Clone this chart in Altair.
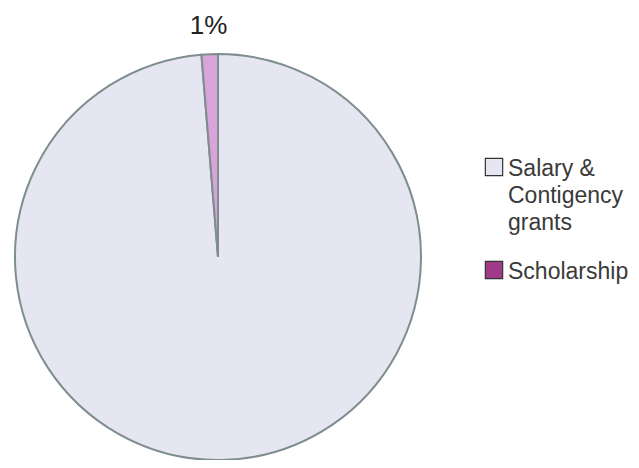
import altair as alt
import pandas as pd

categories = ["Salary & Contigency grants", "Scholarship"]
values = [98.7, 1.3]
legend_lines = [["Salary &", "Contigency", "grants"], ["Scholarship"]]
slice_colors = ["#E6E6F3", "#D8A4DA"]
legend_colors = ["#E6E6F3", "#9E3A86"]

df = pd.DataFrame({
    "cat": categories,
    "value": values,
    "ord": list(range(len(categories))),
    "legend": legend_lines,
})

CX, CY, R = 210, 249, 203

base = alt.Chart(df)

pie = base.mark_arc(radius=R, x=CX, y=CY, stroke="#7E8E8E", strokeWidth=2).encode(
    theta=alt.Theta("value:Q", stack=True),
    order=alt.Order("ord:Q"),
    color=alt.Color("cat:N", scale=alt.Scale(domain=categories, range=slice_colors), legend=None),
)

label = base.transform_calculate(
    lab="datum.cat == 'Scholarship' ? format(datum.value/100, '.0%') : ''"
).mark_text(radius=R + 28, x=CX, y=CY, fontSize=26, font="Liberation Sans", color="#222222").encode(
    theta=alt.Theta("value:Q", stack=True),
    order=alt.Order("ord:Q"),
    text="lab:N",
)

ypos = alt.Y("cat:N", scale=alt.Scale(domain=categories, range=[159, 262], padding=0), axis=None)

swatch = base.mark_square(size=300, stroke="#333333", strokeWidth=1.2, opacity=1).encode(
    x=alt.value(486),
    y=ypos,
    fill=alt.Color("cat:N", scale=alt.Scale(domain=categories, range=legend_colors), legend=None),
)

legtext = base.mark_text(align="left", baseline="alphabetic", dy=9, fontSize=23, lineHeight=27,
                         font="Liberation Sans", color="#3a3a3a").encode(
    x=alt.value(500),
    y=ypos,
    text="legend",
)

chart = alt.layer(pie, label, swatch, legtext).properties(
    width=623, height=452, padding=0, autosize=alt.AutoSizeParams(type="none")
).configure_view(stroke=None)

chart.save("out.html", embed_options={"renderer": "svg", "actions": False})
